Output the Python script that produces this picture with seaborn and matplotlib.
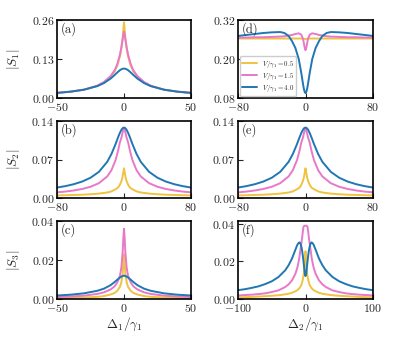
import matplotlib
matplotlib.use("Agg")
import matplotlib.pyplot as plt
import seaborn as sns

# colours for V/gamma_1 = 0.5, 1.5, 4.0
colors = ["#efc23f", "#e878c8", "#1f77b4"]
v_labels = [r"$V/\gamma_1=0.5$", r"$V/\gamma_1=1.5$", r"$V/\gamma_1=4.0$"]

# (a) |S1| vs Delta1
x_a = [-50, -40, -30, -20, -15, -10, -7, -5, -3, -2, -1, -0.5, 0,
       0.5, 1, 2, 3, 5, 7, 10, 15, 20, 30, 40, 50]
a_yellow = [0.0170, 0.0211, 0.0276, 0.0400, 0.0520, 0.0710, 0.0890, 0.1080, 0.1400, 0.1650, 0.2000, 0.2280, 0.2520,
            0.2280, 0.2000, 0.1650, 0.1400, 0.1080, 0.0890, 0.0710, 0.0520, 0.0400, 0.0276, 0.0211, 0.0170]
a_pink = [0.0170, 0.0211, 0.0276, 0.0410, 0.0530, 0.0730, 0.0920, 0.1130, 0.1450, 0.1680, 0.1960, 0.2130, 0.2210,
          0.2130, 0.1960, 0.1680, 0.1450, 0.1130, 0.0920, 0.0730, 0.0530, 0.0410, 0.0276, 0.0211, 0.0170]
a_blue = [0.0170, 0.0211, 0.0276, 0.0395, 0.0496, 0.0647, 0.0767, 0.0852, 0.0928, 0.0956, 0.0974, 0.0978, 0.0980,
          0.0978, 0.0974, 0.0956, 0.0928, 0.0852, 0.0767, 0.0647, 0.0496, 0.0395, 0.0276, 0.0211, 0.0170]

# (d) |S1| vs Delta2
x_d = [-80, -70, -60, -50, -40, -30, -25, -20, -16, -12, -8, -5, -3, -2, -1, 0,
       1, 2, 3, 5, 8, 12, 16, 20, 25, 30, 40, 50, 60, 70, 80]
d_yellow = [0.263, 0.263, 0.263, 0.263, 0.263, 0.263, 0.263, 0.263, 0.263, 0.263, 0.263, 0.263, 0.263, 0.262, 0.262, 0.261,
            0.262, 0.262, 0.263, 0.263, 0.263, 0.263, 0.263, 0.263, 0.263, 0.263, 0.263, 0.263, 0.263, 0.263, 0.263]
d_pink = [0.266, 0.266, 0.267, 0.267, 0.268, 0.269, 0.270, 0.272, 0.274, 0.277, 0.279, 0.275, 0.262, 0.250, 0.235, 0.227,
          0.235, 0.250, 0.262, 0.275, 0.279, 0.277, 0.274, 0.272, 0.270, 0.269, 0.268, 0.267, 0.267, 0.266, 0.266]
d_blue = [0.271, 0.274, 0.277, 0.280, 0.282, 0.283, 0.280, 0.271, 0.255, 0.234, 0.200, 0.157, 0.124, 0.109, 0.099, 0.095,
          0.099, 0.109, 0.124, 0.157, 0.200, 0.234, 0.255, 0.271, 0.280, 0.283, 0.282, 0.280, 0.277, 0.274, 0.271]

# (b) |S2| vs Delta1 and (e) |S2| vs Delta2 (look the same)
x_b = [-80, -70, -60, -50, -40, -30, -20, -15, -10, -7, -5, -3, -2, -1, 0,
       1, 2, 3, 5, 7, 10, 15, 20, 30, 40, 50, 60, 70, 80]
b_yellow = [0.0047, 0.0050, 0.0055, 0.0060, 0.0068, 0.0080, 0.0100, 0.0120, 0.0160, 0.0190, 0.0240, 0.0310, 0.0370, 0.0450, 0.0540,
            0.0450, 0.0370, 0.0310, 0.0240, 0.0190, 0.0160, 0.0120, 0.0100, 0.0080, 0.0068, 0.0060, 0.0055, 0.0050, 0.0047]
b_pink = [0.0103, 0.0117, 0.0137, 0.0164, 0.0204, 0.0269, 0.0392, 0.0505, 0.0692, 0.0864, 0.1007, 0.1100, 0.1170, 0.1230, 0.1270,
          0.1230, 0.1170, 0.1100, 0.1007, 0.0864, 0.0692, 0.0505, 0.0392, 0.0269, 0.0204, 0.0164, 0.0137, 0.0117, 0.0103]
b_blue = [0.0190, 0.0216, 0.0251, 0.0299, 0.0368, 0.0475, 0.0658, 0.0800, 0.0983, 0.1106, 0.1182, 0.1242, 0.1263, 0.1276, 0.1280,
          0.1276, 0.1263, 0.1242, 0.1182, 0.1106, 0.0983, 0.0800, 0.0658, 0.0475, 0.0368, 0.0299, 0.0251, 0.0216, 0.0190]

# (c) |S3| vs Delta1
x_c = [-50, -40, -30, -20, -15, -10, -7, -5, -3, -2, -1, -0.5, 0,
       0.5, 1, 2, 3, 5, 7, 10, 15, 20, 30, 40, 50]
c_yellow = [0.0005, 0.0006, 0.0008, 0.0011, 0.0015, 0.0023, 0.0031, 0.0042, 0.0063, 0.0085, 0.0130, 0.0180, 0.0230,
            0.0180, 0.0130, 0.0085, 0.0063, 0.0042, 0.0031, 0.0023, 0.0015, 0.0011, 0.0008, 0.0006, 0.0005]
c_pink = [0.0010, 0.0013, 0.0017, 0.0026, 0.0034, 0.0049, 0.0065, 0.0085, 0.0120, 0.0160, 0.0240, 0.0310, 0.0360,
          0.0310, 0.0240, 0.0160, 0.0120, 0.0085, 0.0065, 0.0049, 0.0034, 0.0026, 0.0017, 0.0013, 0.0010]
c_blue = [0.0018, 0.0022, 0.0029, 0.0042, 0.0053, 0.0071, 0.0087, 0.0099, 0.0110, 0.0115, 0.0118, 0.0119, 0.0120,
          0.0119, 0.0118, 0.0115, 0.0110, 0.0099, 0.0087, 0.0071, 0.0053, 0.0042, 0.0029, 0.0022, 0.0018]

# (f) |S3| vs Delta2
x_f = [-100, -90, -80, -70, -60, -50, -40, -30, -25, -20, -15, -12, -10, -9, -8, -7, -6, -5, -4, -3, -2, -1, 0,
       1, 2, 3, 4, 5, 6, 7, 8, 9, 10, 12, 15, 20, 25, 30, 40, 50, 60, 70, 80, 90, 100]
f_yellow = [0.0009, 0.0010, 0.0011, 0.0013, 0.0015, 0.0017, 0.0020, 0.0025, 0.0028, 0.0033, 0.0041, 0.0047, 0.0054, 0.0058,
            0.0063, 0.0069, 0.0077, 0.0088, 0.0102, 0.0122, 0.0153, 0.0200, 0.0254,
            0.0200, 0.0153, 0.0122, 0.0102, 0.0088, 0.0077, 0.0069, 0.0063, 0.0058, 0.0054, 0.0047, 0.0041, 0.0033,
            0.0028, 0.0025, 0.0020, 0.0017, 0.0015, 0.0013, 0.0011, 0.0010, 0.0009]
f_pink = [0.0019, 0.0021, 0.0023, 0.0026, 0.0030, 0.0037, 0.0046, 0.0064, 0.0078, 0.0099, 0.0134, 0.0168, 0.0202, 0.0222,
          0.0250, 0.0275, 0.0300, 0.0326, 0.0357, 0.0383, 0.0389, 0.0390, 0.0390,
          0.0390, 0.0389, 0.0383, 0.0357, 0.0326, 0.0300, 0.0275, 0.0250, 0.0222, 0.0202, 0.0168, 0.0134, 0.0099,
          0.0078, 0.0064, 0.0046, 0.0037, 0.0030, 0.0026, 0.0023, 0.0021, 0.0019]
f_blue = [0.0047, 0.0052, 0.0059, 0.0067, 0.0079, 0.0094, 0.0117, 0.0153, 0.0180, 0.0215, 0.0262, 0.0289, 0.0299, 0.0301,
          0.0298, 0.0290, 0.0276, 0.0257, 0.0231, 0.0200, 0.0168, 0.0134, 0.0122,
          0.0134, 0.0168, 0.0200, 0.0231, 0.0257, 0.0276, 0.0290, 0.0298, 0.0301, 0.0299, 0.0289, 0.0262, 0.0215,
          0.0180, 0.0153, 0.0117, 0.0094, 0.0079, 0.0067, 0.0059, 0.0052, 0.0047]

sns.set_style("ticks")
plt.rcParams["font.family"] = ["serif"]
plt.rcParams["font.serif"] = ["cmr10", "DejaVu Serif"]
plt.rcParams["mathtext.fontset"] = "cm"
plt.rcParams["axes.formatter.use_mathtext"] = True
plt.rcParams["axes.unicode_minus"] = True

fig = plt.figure(figsize=(3.97, 3.47), dpi=100)
W, H = 397.0, 347.0


def make_ax(x0, x1, y0, y1):
    return fig.add_axes([x0 / W, 1 - y1 / H, (x1 - x0) / W, (y1 - y0) / H])


panels = [
    # label, x, series, xlim, xticks, ylim, yticks, pixel box, ylabel, xlabel
    ("(a)", x_a, [a_yellow, a_pink, a_blue], (-50, 50), [-50, 0, 50], (0, 0.26), [0, 0.13, 0.26],
     (57, 191, 20, 98), r"$|S_1|$", None),
    ("(b)", x_b, [b_yellow, b_pink, b_blue], (-80, 80), [-80, 0, 80], (0, 0.14), [0, 0.07, 0.14],
     (57, 191, 121, 198), r"$|S_2|$", None),
    ("(c)", x_c, [c_yellow, c_pink, c_blue], (-50, 50), [-50, 0, 50], (0, 0.04), [0, 0.02, 0.04],
     (57, 191, 221, 299), r"$|S_3|$", r"$\Delta_1/\gamma_1$"),
    ("(d)", x_d, [d_yellow, d_pink, d_blue], (-80, 80), [-80, 0, 80], (0.08, 0.32), [0.08, 0.20, 0.32],
     (238, 373, 20, 98), None, None),
    ("(e)", x_b, [b_yellow, b_pink, b_blue], (-80, 80), [-80, 0, 80], (0, 0.14), [0, 0.07, 0.14],
     (238, 373, 121, 198), None, None),
    ("(f)", x_f, [f_yellow, f_pink, f_blue], (-100, 100), [-100, 0, 100], (0, 0.0415), [0, 0.02, 0.04],
     (238, 373, 221, 299), None, r"$\Delta_2/\gamma_1$"),
]

for tag, xs, series, xlim, xticks, ylim, yticks, box, ylab, xlab in panels:
    ax = make_ax(*box)
    for ys, col, lab in zip(series, colors, v_labels):
        sns.lineplot(x=xs, y=ys, ax=ax, color=col, lw=1.4,
                     label=lab if tag == "(d)" else None)
    ax.set_xlim(*xlim)
    ax.set_ylim(*ylim)
    ax.set_xticks(xticks)
    ax.set_yticks(yticks)
    ax.tick_params(direction="in", length=3.5, width=0.8, labelsize=8.5, pad=2,
                   top=False, right=False)
    for s in ax.spines.values():
        s.set_linewidth(1.2)
        s.set_color("black")
    ax.text(0.025, 0.97, tag, transform=ax.transAxes, ha="left", va="top", fontsize=9)
    if ylab:
        ax.set_ylabel(ylab, fontsize=9.5)
        ax.yaxis.set_label_coords(-0.26, 0.5)
    if xlab:
        ax.set_xlabel(xlab, fontsize=9.5)
        ax.xaxis.set_label_coords(0.5, -0.21)
    if tag == "(d)":
        ax.legend(loc="lower left", fontsize=5, handlelength=2.2, handletextpad=0.6,
                  labelspacing=0.15, borderpad=0.35, borderaxespad=0.25,
                  frameon=True, edgecolor="#cccccc", fancybox=True, framealpha=1.0)
    elif ax.get_legend() is not None:
        ax.get_legend().remove()

fig.savefig("out.png", dpi=100)
